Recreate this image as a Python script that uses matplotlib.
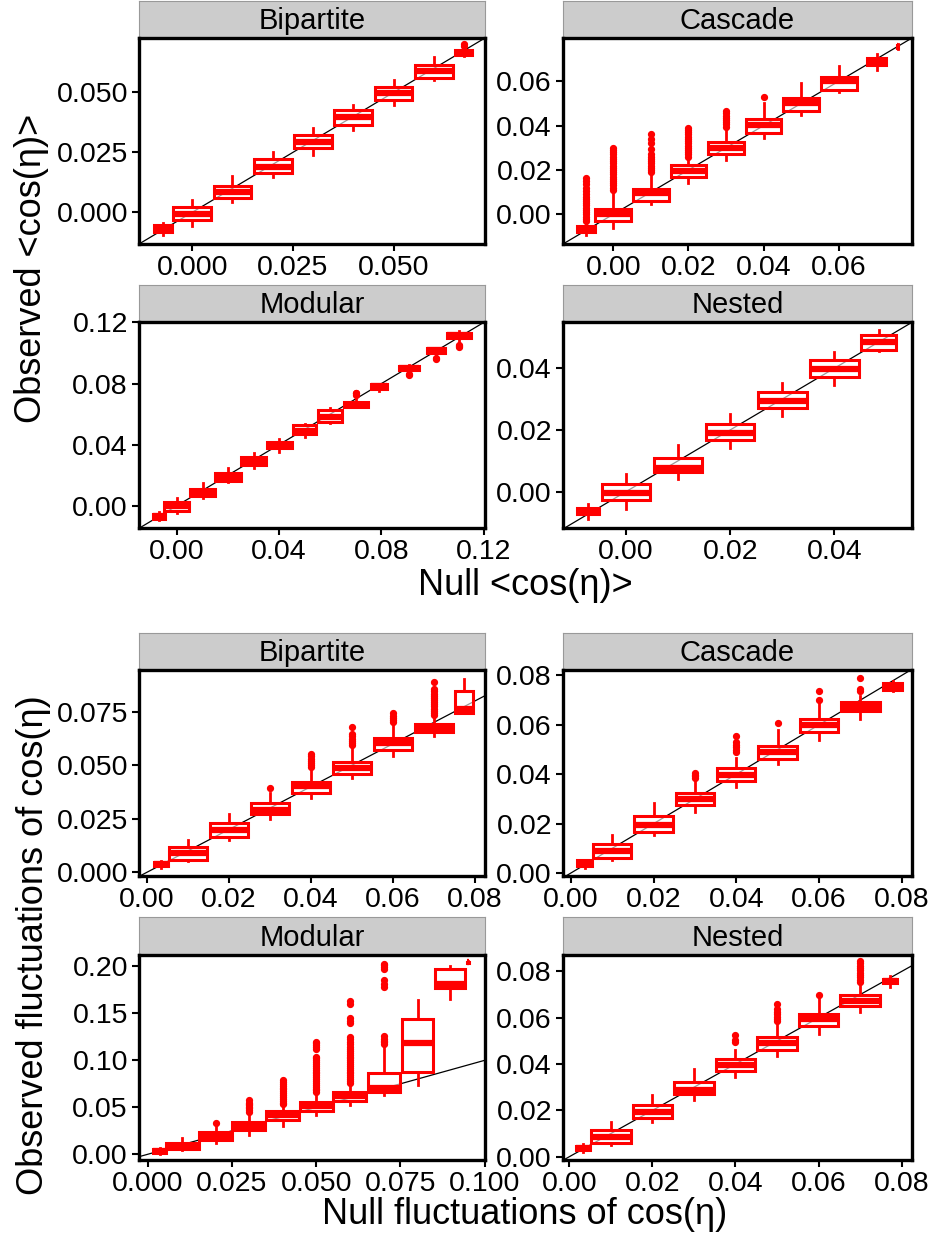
import matplotlib
matplotlib.use("Agg")
import matplotlib.pyplot as plt
from matplotlib.ticker import FormatStrFormatter

plt.rcParams['font.family'] = ['Liberation Sans', 'DejaVu Sans']

# ---------------- data: top group, mean <cos(eta)> ----------------
mean_bip_x = [-0.0073, 0.0, 0.01, 0.02, 0.03, 0.04, 0.05, 0.06, 0.0674]
mean_bip_w = [0.0045, 0.0094, 0.0094, 0.0094, 0.0094, 0.0094, 0.0094, 0.0094, 0.0042]
mean_bip_lo = [-0.0096, -0.0057, 0.0045, 0.0146, 0.024, 0.0344, 0.0447, 0.055, 0.0653]
mean_bip_q1 = [-0.0081, -0.0032, 0.0059, 0.0163, 0.0268, 0.0365, 0.0467, 0.056, 0.0655]
mean_bip_med = [-0.0067, -0.0007, 0.0086, 0.0191, 0.0295, 0.0397, 0.0497, 0.0588, 0.0665]
mean_bip_q3 = [-0.0054, 0.0024, 0.011, 0.0222, 0.0323, 0.0425, 0.0523, 0.0614, 0.0679]
mean_bip_hi = [-0.0043, 0.0052, 0.0152, 0.0251, 0.0351, 0.0449, 0.055, 0.0648, 0.0688]
mean_bip_out = [[], [], [], [], [], [], [], [], [0.0695, 0.0700]]

mean_cas_x = [-0.0072, 0.0, 0.01, 0.02, 0.03, 0.04, 0.05, 0.06, 0.0701, 0.0757]
mean_cas_w = [0.0047, 0.0095, 0.0095, 0.0095, 0.0095, 0.0095, 0.0095, 0.0095, 0.0049, 0.0004]
mean_cas_lo = [-0.0094, -0.0061, 0.0045, 0.014, 0.0245, 0.0346, 0.0447, 0.0552, 0.0652, 0.0745]
mean_cas_q1 = [-0.0079, -0.0031, 0.0061, 0.0166, 0.0271, 0.0368, 0.0468, 0.0562, 0.0674, 0.0752]
mean_cas_med = [-0.0066, 0.0003, 0.0095, 0.0197, 0.0301, 0.0403, 0.0503, 0.06, 0.0689, 0.0757]
mean_cas_q3 = [-0.0051, 0.0025, 0.0113, 0.0224, 0.0328, 0.0428, 0.0525, 0.0617, 0.0704, 0.0762]
mean_cas_hi = [-0.0037, 0.01, 0.018, 0.025, 0.0383, 0.05, 0.0592, 0.067, 0.0722, 0.0768]
mean_cas_out = [
    [-0.003, -0.002, -0.001, 0.0, 0.001, 0.002, 0.003, 0.004, 0.005, 0.006, 0.007,
     0.008, 0.009, 0.0105, 0.012, 0.0135, 0.015, 0.0163],
    [0.011, 0.012, 0.013, 0.014, 0.015, 0.016, 0.017, 0.018, 0.019, 0.02, 0.021,
     0.022, 0.023, 0.024, 0.025, 0.026, 0.027, 0.028, 0.029, 0.03],
    [0.019, 0.02, 0.021, 0.022, 0.023, 0.024, 0.025, 0.026, 0.027, 0.0295, 0.032, 0.034, 0.036],
    [0.026, 0.027, 0.028, 0.029, 0.03, 0.031, 0.032, 0.033, 0.034, 0.035, 0.036,
     0.037, 0.038, 0.039],
    [0.0395, 0.0405, 0.0415, 0.0425, 0.0435, 0.0445, 0.0455, 0.0465],
    [0.053], [], [], [], []]

mean_mod_x = [-0.007, 0.0, 0.0102, 0.02, 0.03, 0.04, 0.05, 0.06, 0.07, 0.079, 0.0907, 0.1014, 0.1103]
mean_mod_w = [0.0048, 0.0098, 0.0098, 0.0098, 0.0098, 0.0098, 0.0092, 0.0095, 0.0094,
              0.0063, 0.0076, 0.0072, 0.0095]
mean_mod_lo = [-0.0091, -0.0048, 0.005, 0.0152, 0.0245, 0.035, 0.045, 0.0541, 0.0645,
               0.0749, 0.0872, 0.0974, 0.1067]
mean_mod_q1 = [-0.0084, -0.0032, 0.0061, 0.0164, 0.0264, 0.0379, 0.0468, 0.0548, 0.0645,
               0.0764, 0.0887, 0.0998, 0.1095]
mean_mod_med = [-0.007, -0.0004, 0.0082, 0.019, 0.0294, 0.0398, 0.0489, 0.058, 0.0662,
                0.0781, 0.0905, 0.1017, 0.1115]
mean_mod_q3 = [-0.0054, 0.0022, 0.0108, 0.0216, 0.032, 0.0418, 0.0526, 0.0628, 0.0682,
               0.0796, 0.0916, 0.103, 0.1128]
mean_mod_hi = [-0.0043, 0.005, 0.0147, 0.0245, 0.0346, 0.0435, 0.0537, 0.064, 0.0714,
               0.08, 0.0922, 0.1034, 0.1143]
mean_mod_out = [[], [], [], [], [], [], [], [], [0.0725, 0.0735, 0.074], [],
                [0.0855, 0.0862], [0.0958, 0.0965], [0.104, 0.1048, 0.1055]]

mean_nes_x = [-0.0073, 0.0, 0.01, 0.02, 0.03, 0.04, 0.0485]
mean_nes_w = [0.0043, 0.0093, 0.0093, 0.0093, 0.0093, 0.0093, 0.0066]
mean_nes_lo = [-0.009, -0.0055, 0.004, 0.0143, 0.0245, 0.0346, 0.0455]
mean_nes_q1 = [-0.0074, -0.0027, 0.0062, 0.0166, 0.027, 0.0373, 0.0459]
mean_nes_med = [-0.0063, -0.0003, 0.0078, 0.0191, 0.0294, 0.0397, 0.0485]
mean_nes_q3 = [-0.0052, 0.0026, 0.0108, 0.022, 0.0324, 0.0426, 0.0507]
mean_nes_hi = [-0.0041, 0.0058, 0.0151, 0.0253, 0.0351, 0.0454, 0.0523]
mean_nes_out = [[], [], [], [], [], [], []]

# ---------------- data: bottom group, fluctuations of cos(eta) ----------------
fluc_bip_x = [0.0034, 0.0101, 0.02, 0.03, 0.04, 0.05, 0.06, 0.07, 0.0774]
fluc_bip_w = [0.0035, 0.0093, 0.0093, 0.0093, 0.0093, 0.0093, 0.0093, 0.0093, 0.0045]
fluc_bip_lo = [0.0019, 0.0052, 0.015, 0.0249, 0.0346, 0.044, 0.0542, 0.0636, 0.0742]
fluc_bip_q1 = [0.0028, 0.006, 0.0166, 0.0271, 0.037, 0.046, 0.057, 0.0655, 0.0746]
fluc_bip_med = [0.0038, 0.0091, 0.0197, 0.0291, 0.0401, 0.0487, 0.0605, 0.0675, 0.0762]
fluc_bip_q3 = [0.0049, 0.0119, 0.0232, 0.0326, 0.0424, 0.0514, 0.0628, 0.0694, 0.0847]
fluc_bip_hi = [0.0053, 0.0153, 0.0271, 0.037, 0.0475, 0.0581, 0.0683, 0.0722, 0.0902]
fluc_bip_out = [
    [], [], [], [0.0395],
    [0.049, 0.05, 0.051, 0.052, 0.053, 0.0545, 0.0555],
    [0.0595, 0.0605, 0.0615, 0.0625, 0.0635, 0.0645, 0.068],
    [0.07, 0.071, 0.072, 0.073, 0.0745],
    [0.0735, 0.0745, 0.0755, 0.0765, 0.0775, 0.0785, 0.0795, 0.0805, 0.0815, 0.0825,
     0.0835, 0.0845, 0.0858, 0.0887],
    []]

fluc_cas_x = [0.0033, 0.01, 0.02, 0.03, 0.04, 0.05, 0.06, 0.07, 0.0778]
fluc_cas_w = [0.0035, 0.0093, 0.0093, 0.0093, 0.0093, 0.0093, 0.0093, 0.0093, 0.0045]
fluc_cas_lo = [0.0022, 0.0052, 0.0153, 0.0248, 0.0347, 0.0441, 0.0537, 0.0624, 0.0736]
fluc_cas_q1 = [0.0028, 0.0061, 0.0167, 0.0275, 0.0373, 0.0461, 0.0571, 0.0658, 0.0743]
fluc_cas_med = [0.0041, 0.009, 0.0194, 0.0298, 0.0397, 0.0488, 0.0601, 0.0673, 0.0757]
fluc_cas_q3 = [0.0052, 0.0119, 0.023, 0.0325, 0.0424, 0.0513, 0.0624, 0.0692, 0.077]
fluc_cas_hi = [0.0054, 0.0153, 0.0282, 0.037, 0.0465, 0.058, 0.0689, 0.0716, 0.0777]
fluc_cas_out = [[], [], [], [0.0385, 0.0392, 0.0398, 0.0405],
                [0.049, 0.05, 0.051, 0.052, 0.053, 0.0555], [0.0607],
                [0.0702, 0.0737], [0.0735, 0.0745, 0.079], []]

fluc_mod_x = [0.0035, 0.0102, 0.0202, 0.03, 0.04, 0.05, 0.06, 0.0701, 0.0801, 0.0898, 0.0951]
fluc_mod_w = [0.0036, 0.0098, 0.0098, 0.0098, 0.0098, 0.0098, 0.0098, 0.0096, 0.0094, 0.009, 0.0004]
fluc_mod_lo = [0.0007, 0.0046, 0.0118, 0.0207, 0.0296, 0.0421, 0.0528, 0.0635, 0.0742, 0.1651, 0.2035]
fluc_mod_q1 = [0.0018, 0.0061, 0.0153, 0.026, 0.0367, 0.0463, 0.057, 0.066, 0.0873, 0.1765, 0.2038]
fluc_mod_med = [0.0039, 0.0089, 0.0189, 0.0303, 0.0414, 0.051, 0.0617, 0.0706, 0.1187, 0.1811, 0.2043]
fluc_mod_q3 = [0.0061, 0.0125, 0.0232, 0.0339, 0.0456, 0.0553, 0.066, 0.0866, 0.1437, 0.1971, 0.2048]
fluc_mod_hi = [0.0071, 0.0168, 0.0296, 0.0431, 0.051, 0.0645, 0.0742, 0.1151, 0.164, 0.2007, 0.2052]
fluc_mod_out = [
    [], [], [0.0335],
    [0.045, 0.047, 0.049, 0.0505, 0.052, 0.0535, 0.055, 0.058],
    [0.053, 0.055, 0.057, 0.059, 0.061, 0.063, 0.065, 0.067, 0.069, 0.071, 0.073,
     0.075, 0.077, 0.0795],
    [0.066, 0.068, 0.07, 0.072, 0.074, 0.076, 0.078, 0.08, 0.082, 0.084, 0.086, 0.088,
     0.09, 0.092, 0.094, 0.096, 0.098, 0.1, 0.102, 0.104, 0.112, 0.114, 0.116, 0.118, 0.12],
    [0.076, 0.078, 0.08, 0.082, 0.084, 0.086, 0.088, 0.09, 0.092, 0.094, 0.096, 0.098,
     0.1, 0.102, 0.104, 0.106, 0.108, 0.11, 0.112, 0.114, 0.117, 0.12, 0.123, 0.125,
     0.14, 0.142, 0.145, 0.16, 0.163],
    [0.117, 0.119, 0.121, 0.123, 0.126, 0.178, 0.181, 0.185, 0.197, 0.199, 0.201, 0.203],
    [], [], []]

fluc_nes_x = [0.0033, 0.01, 0.02, 0.03, 0.04, 0.05, 0.06, 0.07, 0.0771]
fluc_nes_w = [0.0035, 0.0095, 0.0095, 0.0095, 0.0095, 0.0095, 0.0095, 0.0095, 0.0034]
fluc_nes_lo = [0.0019, 0.0051, 0.0149, 0.0246, 0.0344, 0.0437, 0.0531, 0.0625, 0.0735]
fluc_nes_q1 = [0.0029, 0.0061, 0.0166, 0.0272, 0.0369, 0.0463, 0.0564, 0.0651, 0.0749]
fluc_nes_med = [0.0039, 0.0087, 0.0195, 0.0289, 0.0398, 0.0492, 0.0593, 0.0672, 0.0759]
fluc_nes_q3 = [0.0048, 0.0116, 0.0224, 0.0322, 0.0424, 0.0516, 0.0617, 0.0697, 0.0769]
fluc_nes_hi = [0.0054, 0.0149, 0.0268, 0.038, 0.0463, 0.0571, 0.0691, 0.0738, 0.0781]
fluc_nes_out = [[], [], [], [], [0.0495, 0.0505, 0.0527],
                [0.0585, 0.0595, 0.0605, 0.0615, 0.0625, 0.064, 0.066], [0.0697],
                [0.0755, 0.0765, 0.0775, 0.0785, 0.0795, 0.0805, 0.0815, 0.0825, 0.0835, 0.0845],
                []]

# ---------------- layout (pixels) ----------------
W, H = 933, 1245
RED = '#FF0000'


def px_rect(x0, y0, x1, y1):
    return [x0 / W, 1 - y1 / H, (x1 - x0) / W, (y1 - y0) / H]


def draw_panel(fig, x0, x1, strip_top, y0, y1, title, xs, ws, lo, q1, med, q3, hi, out,
               xlim, ylim, xticks, yticks, xfmt, yfmt):
    # strip first, so the panel frame is drawn over its lower edge
    sax = fig.add_axes(px_rect(x0, strip_top, x1, y0))
    sax.set_facecolor('#CCCCCC')
    sax.set_xticks([])
    sax.set_yticks([])
    for sp in sax.spines.values():
        sp.set_linewidth(0.8)
        sp.set_color('#999999')
    sax.text(0.5, 0.45, title, transform=sax.transAxes, ha='center', va='center',
             fontsize=21, color='black')

    ax = fig.add_axes(px_rect(x0, y0, x1, y1))
    ax.axline((0, 0), slope=1, color='black', lw=0.9, zorder=1)
    stats = []
    for i in range(len(xs)):
        stats.append(dict(whislo=lo[i], q1=q1[i], med=med[i], q3=q3[i], whishi=hi[i],
                          fliers=out[i]))
    ax.bxp(stats, positions=xs, widths=ws, patch_artist=True, showcaps=False,
           manage_ticks=False,
           boxprops=dict(facecolor=(1, 1, 1, 0.6), edgecolor=RED, linewidth=2.2, zorder=2),
           medianprops=dict(color=RED, linewidth=4.5, solid_capstyle='butt', zorder=3),
           whiskerprops=dict(color=RED, linewidth=2.0, zorder=2),
           flierprops=dict(marker='o', markerfacecolor=RED, markeredgecolor=RED,
                           markersize=4.2, zorder=2))
    ax.set_xlim(*xlim)
    ax.set_ylim(*ylim)
    ax.set_xticks(xticks)
    ax.set_yticks(yticks)
    ax.xaxis.set_major_formatter(FormatStrFormatter(xfmt))
    ax.yaxis.set_major_formatter(FormatStrFormatter(yfmt))
    ax.tick_params(labelsize=20.5, length=5, width=1.5, color='black', pad=3)
    for sp in ax.spines.values():
        sp.set_linewidth(2.4)
        sp.set_color('black')
    return ax


fig = plt.figure(figsize=(W / 100, H / 100), dpi=100)

LX0, LX1 = 139, 485
RX0, RX1 = 563, 912

t1 = [0, 0.025, 0.05]
t2 = [0, 0.02, 0.04, 0.06]
t3 = [0, 0.04, 0.08, 0.12]
t4 = [0, 0.02, 0.04]
t8 = [0, 0.02, 0.04, 0.06, 0.08]

draw_panel(fig, LX0, LX1, 1, 38, 244, 'Bipartite', mean_bip_x, mean_bip_w, mean_bip_lo,
           mean_bip_q1, mean_bip_med, mean_bip_q3, mean_bip_hi, mean_bip_out,
           (-0.0132, 0.0727), (-0.0132, 0.0727), t1, t1, '%.3f', '%.3f')
draw_panel(fig, RX0, RX1, 1, 38, 244, 'Cascade', mean_cas_x, mean_cas_w, mean_cas_lo,
           mean_cas_q1, mean_cas_med, mean_cas_q3, mean_cas_hi, mean_cas_out,
           (-0.0134, 0.0795), (-0.0134, 0.0795), t2, t2, '%.2f', '%.2f')
draw_panel(fig, LX0, LX1, 285, 322, 528, 'Modular', mean_mod_x, mean_mod_w, mean_mod_lo,
           mean_mod_q1, mean_mod_med, mean_mod_q3, mean_mod_hi, mean_mod_out,
           (-0.0148, 0.1205), (-0.0146, 0.1203), t3, t3, '%.2f', '%.2f')
draw_panel(fig, RX0, RX1, 285, 322, 528, 'Nested', mean_nes_x, mean_nes_w, mean_nes_lo,
           mean_nes_q1, mean_nes_med, mean_nes_q3, mean_nes_hi, mean_nes_out,
           (-0.0121, 0.0549), (-0.0118, 0.0550), t4, t4, '%.2f', '%.2f')

draw_panel(fig, LX0, LX1, 633, 670, 876, 'Bipartite', fluc_bip_x, fluc_bip_w, fluc_bip_lo,
           fluc_bip_q1, fluc_bip_med, fluc_bip_q3, fluc_bip_hi, fluc_bip_out,
           (-0.0019, 0.0825), (-0.0017, 0.0945), t8, [0, 0.025, 0.05, 0.075], '%.2f', '%.3f')
draw_panel(fig, RX0, RX1, 633, 670, 876, 'Cascade', fluc_cas_x, fluc_cas_w, fluc_cas_lo,
           fluc_cas_q1, fluc_cas_med, fluc_cas_q3, fluc_cas_hi, fluc_cas_out,
           (-0.0019, 0.0825), (-0.0012, 0.0822), t8, t8, '%.2f', '%.2f')
draw_panel(fig, LX0, LX1, 917, 955, 1160, 'Modular', fluc_mod_x, fluc_mod_w, fluc_mod_lo,
           fluc_mod_q1, fluc_mod_med, fluc_mod_q3, fluc_mod_hi, fluc_mod_out,
           (-0.0026, 0.1001), (-0.0061, 0.2121), [0, 0.025, 0.05, 0.075, 0.1],
           [0, 0.05, 0.1, 0.15, 0.2], '%.3f', '%.2f')
draw_panel(fig, RX0, RX1, 917, 955, 1160, 'Nested', fluc_nes_x, fluc_nes_w, fluc_nes_lo,
           fluc_nes_q1, fluc_nes_med, fluc_nes_q3, fluc_nes_hi, fluc_nes_out,
           (-0.0015, 0.0825), (-0.0014, 0.0871), t8, t8, '%.2f', '%.2f')

# axis titles
fig.text(32 / W, 1 - 268 / H, 'Observed <cos(η)>', rotation=90, ha='center', va='center',
         fontsize=26)
fig.text(525 / W, 1 - 585 / H, 'Null <cos(η)>', ha='center', va='center', fontsize=26)
fig.text(34 / W, 1 - 945 / H, 'Observed fluctuations of cos(η)', rotation=90,
         ha='center', va='center', fontsize=26)
fig.text(525 / W, 1 - 1215 / H, 'Null fluctuations of cos(η)', ha='center', va='center',
         fontsize=26)

fig.savefig('out.png', dpi=100, facecolor='white')
